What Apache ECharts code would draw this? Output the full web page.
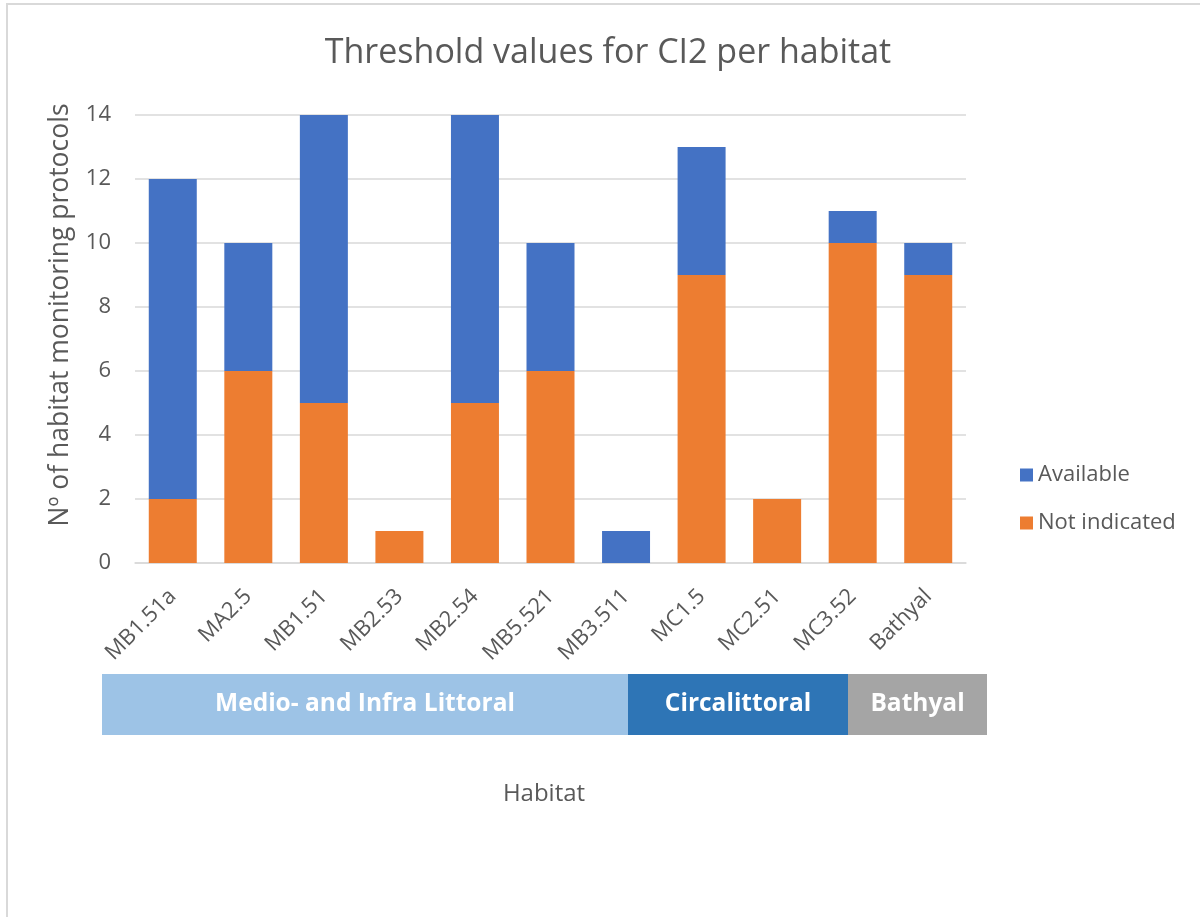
<!DOCTYPE html>
<html>
<head>
<meta charset="utf-8">
<script src="https://cdn.jsdelivr.net/npm/echarts@6/dist/echarts.min.js"></script>
<style>
  html, body { margin: 0; padding: 0; background: #fff; }
  #chart { width: 1200px; height: 917px; }
</style>
</head>
<body>
<div id="chart"></div>
<script>
// Habitats on the x axis
const habitats = ['MB1.51a', 'MA2.5', 'MB1.51', 'MB2.53', 'MB2.54', 'MB5.521', 'MB3.511', 'MC1.5', 'MC2.51', 'MC3.52', 'Bathyal'];
// Protocols per habitat, split by threshold status
const notIndicated = [2, 6, 5, 1, 5, 6, 0, 9, 2, 10, 9];
const available    = [10, 4, 9, 0, 9, 4, 1, 4, 0, 1, 1];
// Y axis ticks
const yTicks = { min: 0, max: 14, interval: 2 };
// Depth zones drawn under the habitat labels
const zones = ['Medio- and Infra Littoral', 'Circalittoral', 'Bathyal'];

const FONT = '"Open Sans", "Noto Sans", sans-serif';
const GREY = '#595959';

const chart = echarts.init(document.getElementById('chart'), null, { renderer: 'canvas' });

const zoneBoxes = [
  { x: 102, w: 526, fill: '#9DC3E6' },
  { x: 628, w: 220, fill: '#2E75B6' },
  { x: 848, w: 139, fill: '#A5A5A5' }
];

const graphics = [
  // outer frame
  { type: 'rect', shape: { x: 7, y: 4, width: 1300, height: 1000 },
    style: { fill: 'none', stroke: '#d9d9d9', lineWidth: 2 }, silent: true },
  // y-axis title
  { type: 'text', x: 60, y: 315, rotation: Math.PI / 2,
    style: { text: 'Nº of habitat monitoring protocols', font: '26.5px ' + FONT, fill: GREY,
             textAlign: 'center', textVerticalAlign: 'middle' } },
  // x-axis title
  { type: 'text', x: 544, y: 794,
    style: { text: 'Habitat', font: '24px ' + FONT, fill: GREY,
             textAlign: 'center', textVerticalAlign: 'middle' } }
];
zones.forEach((z, i) => {
  const b = zoneBoxes[i];
  graphics.push({
    type: 'rect', shape: { x: b.x, y: 674, width: b.w, height: 61 },
    style: { fill: b.fill }, silent: true
  });
  graphics.push({
    type: 'text', x: b.x + b.w / 2, y: 704,
    style: { text: z, font: 'bold 24.5px ' + FONT, fill: '#ffffff',
             textAlign: 'center', textVerticalAlign: 'middle' }
  });
});

chart.setOption({
  backgroundColor: '#ffffff',
  animation: false,
  title: {
    text: 'Threshold values for CI2 per habitat',
    left: 603, top: 31, textAlign: 'center',
    textStyle: { fontFamily: FONT, fontSize: 34, fontWeight: 'normal', color: GREY }
  },
  legend: {
    orient: 'vertical', left: 1015, top: 459,
    data: ['Available', 'Not indicated'],
    icon: 'rect', itemWidth: 13, itemHeight: 13, itemGap: 26,
    textStyle: { fontFamily: FONT, fontSize: 22, color: GREY }
  },
  grid: { left: 135, right: 234, top: 115, bottom: 354, containLabel: false },
  xAxis: {
    type: 'category', data: habitats,
    axisLine: { lineStyle: { color: '#d9d9d9', width: 1.5 } },
    axisTick: { show: false },
    axisLabel: { rotate: 45, margin: 30, fontFamily: FONT, fontSize: 22, color: GREY }
  },
  yAxis: {
    type: 'value', min: yTicks.min, max: yTicks.max, interval: yTicks.interval,
    axisLine: { show: false }, axisTick: { show: false },
    splitLine: { lineStyle: { color: '#d9d9d9', width: 1.5 } },
    axisLabel: { margin: 24, fontFamily: FONT, fontSize: 22, color: GREY }
  },
  series: [
    { name: 'Not indicated', type: 'bar', stack: 'total', data: notIndicated,
      barWidth: 48, itemStyle: { color: '#ED7D31' } },
    { name: 'Available', type: 'bar', stack: 'total', data: available,
      barWidth: 48, itemStyle: { color: '#4472C4' } }
  ],
  graphic: graphics
});
</script>
</body>
</html>
